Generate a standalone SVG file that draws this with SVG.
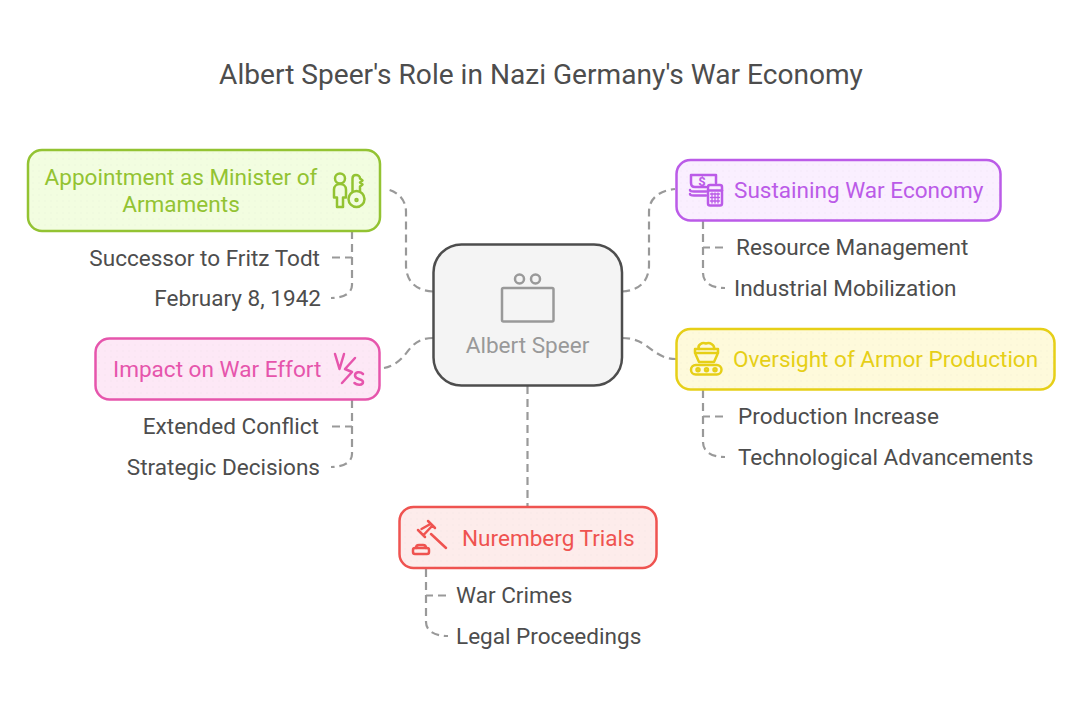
<svg xmlns="http://www.w3.org/2000/svg" width="1083" height="705" viewBox="0 0 1083 705">
<defs>
<pattern id="dots" width="6" height="6" patternUnits="userSpaceOnUse"><circle cx="3" cy="3" r="0.7" fill="#888" fill-opacity="0.07"/></pattern>
</defs>
<style>
text{font-family:Roboto,"Liberation Sans",sans-serif;font-size:22.550px;fill:#4d4d4d}
.title{font-size:28.100px;text-anchor:middle}
.c{fill:none;stroke:#999;stroke-width:2.200;stroke-dasharray:8 5}
.box{stroke-width:2.500}
.dots{fill:url(#dots)}
.i{fill:none;stroke-width:2.500;stroke-linecap:round;stroke-linejoin:round}
.m{text-anchor:middle}.e{text-anchor:end}
.g text{fill:#93c332}.g .box{fill:#f2fde0;stroke:#93c332}.g .i{stroke:#93c332}
.p text{fill:#bb5be8}.p .box{fill:#faefff;stroke:#bb5be8}.p .i{stroke:#bb5be8}
.y text{fill:#e6cf17}.y .box{fill:#fefadb;stroke:#e6cf17}.y .i{stroke:#e6cf17}
.k text{fill:#e655ac}.k .box{fill:#fde8f6;stroke:#e655ac}.k .i{stroke:#e655ac}
.r text{fill:#ef5350}.r .box{fill:#fdeceb;stroke:#ef5350}.r .i{stroke:#ef5350}
</style>
<rect width="1083" height="705" fill="#fff"/>
<text class="title" x="541" y="84">Albert Speer's Role in Nazi Germany's War Economy</text>
<g id="connectors">
<path class="c" d="M433 291.500C418 291 406 283 406 265V212C406 200 398 191 385 189"/>
<path class="c" d="M622 291.500C637 291 649 283 649 265V212C649 200 657 191 675 189"/>
<path class="c" d="M433 338C414 338 410 350 402 358C396 364 390 367 384 368"/>
<path class="c" d="M622 338C640 338 647 347 655 352C661 356 667 359 676 359"/>
<path class="c" d="M527.500 386V506"/>
<path class="c" d="M352 231V285C352 293 344 298 331 298"/>
<path class="c" d="M332 257.500H352"/>
<path class="c" d="M703 221V273C703 283 712 288 725 288"/>
<path class="c" d="M723 247.500H703"/>
<path class="c" d="M703 390V442C703 452 712 457 725 457"/>
<path class="c" d="M723 416.500H703"/>
<path class="c" d="M352 400V454C352 462 344 467 331 467"/>
<path class="c" d="M332 426.500H352"/>
<path class="c" d="M426 569V622C426 631 435 636 448 636"/>
<path class="c" d="M446 595.500H426"/>
</g>
<g id="node-center">
<rect x="433.500" y="244.500" width="188.500" height="141" rx="28" fill="#f4f4f4" stroke="#4d4d4d" stroke-width="2.500"/>
<g fill="none" stroke="#999" stroke-width="2.500" stroke-linejoin="round">
<circle cx="519.500" cy="279" r="4.500"/><circle cx="535.500" cy="279" r="4.500"/>
<rect x="502" y="288" width="51.500" height="33.500" rx="1.500"/>
</g>
<text class="m" x="527.500" y="353" style="fill:#999">Albert Speer</text>
</g>
<g id="node-appointment" class="g">
<rect class="box" x="28" y="150" width="352" height="81" rx="14"/>
<rect class="dots" x="28" y="150" width="352" height="81" rx="14"/>
<text class="m" x="181" y="185">Appointment as Minister of</text>
<text class="m" x="181" y="212">Armaments</text>
<g class="i">
<circle cx="340" cy="178.500" r="5"/>
<path d="M337 207H343V197.500H346V189.500C346 186 343 184 340 184C337 184 334 186 334 189.500V197.500H337Z"/>
<circle cx="356.500" cy="199" r="8"/>
<circle cx="356.500" cy="200" r="1"/>
<path d="M352.500 191.500V178.500C352.500 176 354 175 356 175C358 175 360 176.500 360 178.500L362.500 180.500L360 182.500L362.500 184.500L360 186.500V191.500"/>
</g>
</g>
<g id="node-sustaining" class="p">
<rect class="box" x="676.500" y="160" width="324" height="60.500" rx="14"/>
<rect class="dots" x="676.500" y="160" width="324" height="60.500" rx="14"/>
<text x="734" y="198">Sustaining War Economy</text>
<g class="i">
<path d="M706 187H695C692 187 691 185 691 183V175H716V183"/>
<path d="M690 190C690 191.500 692 191.500 694 191.500H706M690 194C690 195.500 692 195.500 694 195.500H706"/>
<rect x="708" y="185" width="14" height="20.500" rx="2"/>
<path d="M708 190.500H722"/>
<path stroke-width="1.300" d="M710.500 194H719.500M710.500 197.500H719.500M710.500 201H719.500M712 193V203M715 193V203M718 193V203"/>
</g>
<text class="m" x="702" y="186" style="font-size:13px;font-weight:700">$</text>
</g>
<g id="node-oversight" class="y">
<rect class="box" x="676.500" y="329" width="378" height="60.500" rx="14"/>
<rect class="dots" x="676.500" y="329" width="378" height="60.500" rx="14"/>
<text x="733" y="367">Oversight of Armor Production</text>
<g class="i">
<path d="M699 349C697 345 702 342 706 343.500C710 342 715 345 714 349"/>
<path d="M695 349H718V353L714 362H699L695 353ZM695 353H718"/>
<rect x="691" y="365" width="30.500" height="9.500" rx="4.750"/>
<circle cx="698" cy="369.750" r="1.500"/><circle cx="706.500" cy="369.750" r="1.500"/><circle cx="715" cy="369.750" r="1.500"/>
</g>
</g>
<g id="node-impact" class="k">
<rect class="box" x="95.500" y="338.500" width="284" height="61" rx="14"/>
<rect class="dots" x="95.500" y="338.500" width="284" height="61" rx="14"/>
<text x="113" y="377">Impact on War Effort</text>
<g class="i">
<path d="M335 354L339.500 369L344 354"/>
<path d="M355 358L345 369L352 372L342 383"/>
<path d="M363 374C360 371 355 372 355 375.500C355 380 363 378.500 363 382C363 385.500 357 385.500 354.500 383"/>
</g>
</g>
<g id="node-nuremberg" class="r">
<rect class="box" x="399.500" y="507" width="257" height="61" rx="14"/>
<rect class="dots" x="399.500" y="507" width="257" height="61" rx="14"/>
<text x="462" y="546">Nuremberg Trials</text>
<g class="i">
<path d="M418 530L425 537M428 521L435 528M421.500 529L429.500 524.500M424.500 534L432 526"/>
<path d="M431 534L446 548"/>
<rect x="413" y="548" width="16" height="6" rx="2"/>
<path d="M416 548C416 545.500 417 545 419 545H423C425 545 426 545.500 426 548"/>
</g>
</g>
<g id="labels">
<text class="e" x="320" y="266">Successor to Fritz Todt</text>
<text class="e" x="321" y="306">February 8, 1942</text>
<text x="736" y="255">Resource Management</text>
<text x="734" y="296">Industrial Mobilization</text>
<text x="738" y="424">Production Increase</text>
<text x="738" y="465">Technological Advancements</text>
<text class="e" x="319" y="434">Extended Conflict</text>
<text class="e" x="320" y="475">Strategic Decisions</text>
<text x="456" y="603">War Crimes</text>
<text x="456" y="644">Legal Proceedings</text>
</g>
</svg>
